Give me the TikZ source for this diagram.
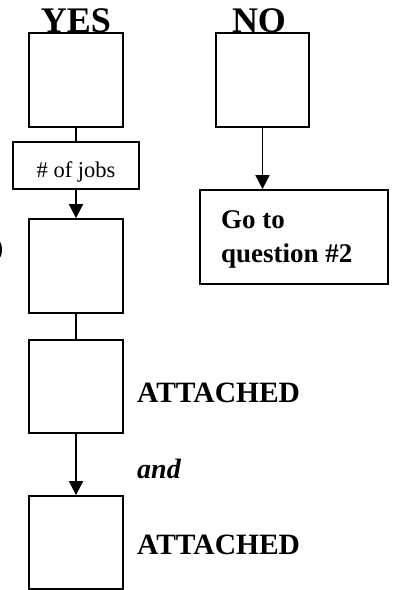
\documentclass[tikz,border=0pt]{standalone}
\usepackage{fontspec}
\setmainfont{Liberation Serif}
\usetikzlibrary{arrows.meta}
\begin{document}
\begin{tikzpicture}[x=1pt,y=-1pt,
  box/.style={draw, line width=1.8pt, inner sep=0pt, minimum width=94pt, minimum height=94pt},
  conn/.style={line width=1.8pt},
  arr/.style={line width=1.8pt, -{Triangle[length=14pt,width=14pt]}},
  head/.style={font=\bfseries\fontsize{36}{40}\selectfont, inner sep=0pt, anchor=base},
  lab/.style={font=\bfseries\fontsize{29.5}{32}\selectfont, inner sep=0pt, anchor=base west},
  golab/.style={font=\bfseries\fontsize{27}{30}\selectfont, inner sep=0pt, anchor=base west}]
\useasboundingbox (0,0) rectangle (396,590);
\fill[white] (0,0) rectangle (396,590);
% headings
\node[head] (yes) at (76,32) {YES};
\node[head] (no) at (259,32) {NO};
% boxes
\node[box] (b1) at (76,80) {};
\node[box, minimum width=126pt, minimum height=47pt] (jobs) at (76,165.5) {};
\node[font=\fontsize{22.5}{24}\selectfont, inner sep=0pt, anchor=base] (jobstxt) at (76,177) {\# of jobs};
\node[box] (b2) at (76,266) {};
\node[box, minimum height=93pt] (b3) at (76,386.5) {};
\node[box, minimum height=93pt] (b4) at (76,542.5) {};
\node[box, minimum width=93pt] (nb) at (262.5,80) {};
\node[box, minimum width=188pt] (go) at (294,237) {};
% texts
\node[golab] (go1) at (221,228) {Go to};
\node[golab] (go2) at (221,262) {question \#2};
\node[lab] (att1) at (137,402) {ATTACHED};
\node[lab, font=\bfseries\itshape\fontsize{28}{32}\selectfont] (and) at (137,478) {and};
\node[lab] (att2) at (137,554) {ATTACHED};
\node[font=\bfseries\fontsize{26}{30}\selectfont, inner sep=0pt, anchor=base east] (paren) at (3.5,256) {)};
% connectors
\draw[conn] (b1.south) -- (jobs.north);
\draw[arr] (jobs.south) -- (b2.north);
\draw[conn] (b2.south) -- (b3.north);
\draw[arr] (b3.south) -- (b4.north);
\draw[arr] (nb.south) -- (go.north -| nb.south);
\end{tikzpicture}
\end{document}
